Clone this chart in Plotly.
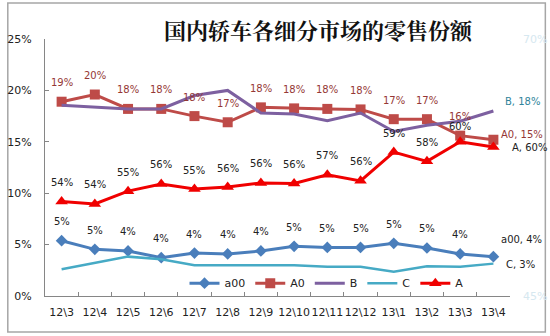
import plotly.graph_objects as go

categories = ["12\\3", "12\\4", "12\\5", "12\\6", "12\\7", "12\\8", "12\\9", "12\\10",
              "12\\11", "12\\12", "13\\1", "13\\2", "13\\3", "13\\4"]
a00 = [5.38, 4.54, 4.38, 3.73, 4.18, 4.09, 4.38, 4.83, 4.73, 4.73, 5.12, 4.67, 4.09, 3.83]
A0 = [18.9, 19.6, 18.2, 18.2, 17.5, 16.9, 18.35, 18.25, 18.2, 18.15, 17.2, 17.2, 15.6, 15.2]
B = [18.55, 18.4, 18.2, 18.2, 19.5, 20.0, 17.8, 17.7, 17.05, 17.8, 16.0, 16.6, 17.0, 18.0]
C = [2.6, 3.2, 3.83, 3.57, 3.0, 3.0, 3.0, 3.0, 2.85, 2.85, 2.36, 2.9, 2.85, 3.15]
A = [54.2, 53.95, 55.2, 55.9, 55.4, 55.6, 56.0, 55.95, 56.8, 56.2, 59.0, 58.1, 60.0, 59.5]

a00_labels = ["5%", "5%", "4%", "4%", "4%", "4%", "4%", "5%", "5%", "5%", "5%", "5%", "4%", "a00, 4%"]
A0_labels = ["19%", "20%", "18%", "18%", "18%", "17%", "18%", "18%", "18%", "18%", "17%", "17%", "16%", "A0, 15%"]
A_labels = ["54%", "54%", "55%", "56%", "55%", "56%", "56%", "56%", "57%", "56%", "59%", "58%", "60%", "A, 60%"]
B_label = "B, 18%"
C_label = "C, 3%"

left_ticks = [0, 5, 10, 15, 20, 25]
left_ticktext = ["0%", "5%", "10%", "15%", "20%", "25%"]
right_ticks = [45, 70]
right_ticktext = ["45%", "70%"]

FONT = "DejaVu Sans"

fig = go.Figure()
fig.add_trace(go.Scatter(x=categories, y=a00, name="a00", mode="lines+markers",
                         line=dict(color="#4A7EBB", width=3),
                         marker=dict(symbol="diamond", size=9, color="#4A7EBB")))
fig.add_trace(go.Scatter(x=categories, y=A0, name="A0", mode="lines+markers",
                         line=dict(color="#BE4B48", width=3),
                         marker=dict(symbol="square", size=10, color="#BE4B48")))
fig.add_trace(go.Scatter(x=categories, y=B, name="B", mode="lines",
                         line=dict(color="#7D60A0", width=3)))
fig.add_trace(go.Scatter(x=categories, y=C, name="C", mode="lines",
                         line=dict(color="#46AAC5", width=2.5)))
fig.add_trace(go.Scatter(x=categories, y=A, name="A", mode="lines+markers", yaxis="y2",
                         line=dict(color="#F00000", width=3),
                         marker=dict(symbol="triangle-up", size=11, color="#F00000")))

annotations = []
last = len(categories) - 1
for i, c in enumerate(categories):
    if i < last:
        annotations.append(dict(x=c, y=a00[i], yref="y", text=a00_labels[i], showarrow=False,
                                yshift=19, font=dict(size=10, color="#222", family=FONT)))
        annotations.append(dict(x=c, y=A0[i], yref="y", text=A0_labels[i], showarrow=False,
                                yshift=19, font=dict(size=10, color="#953735", family=FONT)))
        annotations.append(dict(x=c, y=A[i], yref="y2", text=A_labels[i], showarrow=False,
                                yshift=15 if i == last - 1 else 19,
                                font=dict(size=10, color="#222", family=FONT)))
c = categories[last]
annotations += [
    dict(x=c, y=a00[last], yref="y", text=a00_labels[last], showarrow=False, xanchor="left",
         xshift=6, yshift=17, font=dict(size=10, color="#222", family=FONT)),
    dict(x=c, y=A0[last], yref="y", text=A0_labels[last], showarrow=False, xanchor="left",
         xshift=6, yshift=5, font=dict(size=10, color="#953735", family=FONT)),
    dict(x=c, y=B[last], yref="y", text=B_label, showarrow=False, xanchor="left",
         xshift=10, yshift=9, font=dict(size=10, color="#31849B", family=FONT)),
    dict(x=c, y=C[last], yref="y", text=C_label, showarrow=False, xanchor="left",
         xshift=11, yshift=-1, font=dict(size=10, color="#222", family=FONT)),
    dict(x=c, y=A[last], yref="y2", text=A_labels[last], showarrow=False, xanchor="left",
         xshift=17, yshift=-1, font=dict(size=10, color="#222", family=FONT)),
    dict(x=0.59, y=1.105, xref="paper", yref="paper", text="<b>国内轿车各细分市场的零售份额</b>",
         showarrow=False, font=dict(size=22, color="#111", family="Noto Serif CJK SC, Noto Sans CJK SC")),
]

fig.update_layout(
    width=550, height=336,
    margin=dict(l=45, r=40, t=39, b=40, autoexpand=False),
    paper_bgcolor="white", plot_bgcolor="white",
    showlegend=True,
    legend=dict(orientation="h", x=0.3, y=0.05, xanchor="left", yanchor="middle",
                bgcolor="rgba(0,0,0,0)", font=dict(size=11, color="#222", family=FONT),
                itemwidth=30, tracegroupgap=0),
    xaxis=dict(type="category", range=[-0.5, 13.5], showline=True, linecolor="#868686",
               ticks="inside", ticklen=4, tickcolor="#868686", tickson="boundaries",
               tickangle=0, automargin=False, ticklabelstandoff=6,
               showgrid=False, tickfont=dict(size=11, color="#222", family=FONT)),
    yaxis=dict(range=[0, 25], tickmode="array", tickvals=left_ticks, ticktext=left_ticktext,
               showline=True, linecolor="#868686", ticks="inside", ticklen=4,
               tickcolor="#868686", showgrid=False, zeroline=False, automargin=False,
               ticklabelstandoff=10,
               tickfont=dict(size=11, color="#222", family=FONT)),
    yaxis2=dict(range=[45, 70], tickmode="array", tickvals=right_ticks, ticktext=right_ticktext,
                overlaying="y", side="right", showline=False, showgrid=False, zeroline=False,
                automargin=False, ticklabelstandoff=12,
                tickfont=dict(size=11, color="#D6E8F0", family=FONT)),
    annotations=annotations,
    shapes=[dict(type="rect", xref="paper", yref="paper", x0=-0.08, x1=1.076,
                 y0=-0.14, y1=1.14, line=dict(color="#A6A6A6", width=1.5),
                 fillcolor="rgba(0,0,0,0)", layer="below")],
)

fig.write_html("out.html")
